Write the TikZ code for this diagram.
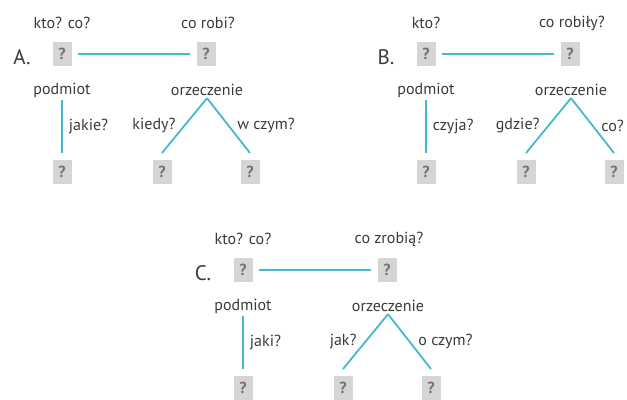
\documentclass[tikz,border=0pt]{standalone}
\usepackage{fontspec}
\setmainfont{PT Sans}

\definecolor{niebieski}{HTML}{45B9CC}
\definecolor{szary}{HTML}{D5D5D5}
\definecolor{napis}{HTML}{3A3A3A}

\tikzset{
  pole/.style={fill=szary, minimum width=9.5pt, minimum height=12pt, inner sep=0pt,
    text=black!55, font=\bfseries\fontsize{8}{9}\selectfont},
  opis/.style={text=napis, inner sep=1pt, font=\fontsize{8}{9}\selectfont},
  litera/.style={text=napis, font=\fontsize{10.5}{12}\selectfont},
  linia/.style={draw=niebieski, line width=0.9pt},
}

% one sentence scheme: prefix, letter, two questions on top, three questions on the edges
\newcommand{\zdanie}[7]{%
  \node[litera] (#1lit) at (-40,3) {#2};
  \node[pole] (#1p) at (0,0) {?};
  \node[pole] (#1o) at (144,0) {?};
  \node[opis] (#1kto) at (0,-31) {#3};
  \node[opis] (#1co) at (146,-31) {#4};
  \node[opis] (#1podm) at (0,36) {podmiot};
  \node[opis] (#1orz) at (145,36) {orzeczenie};
  \node[pole] (#1d1) at (0,118) {?};
  \node[pole] (#1d2) at (100,118) {?};
  \node[pole] (#1d3) at (188,118) {?};
  % ends of the edges, just above the lower boxes
  \coordinate (#1k1) at (0,99);
  \coordinate (#1k2) at (100,99);
  \coordinate (#1k3) at (188,99);
  \draw[linia, shorten <=3pt, shorten >=3pt] (#1p) -- (#1o);
  \draw[linia] (#1podm) -- node[opis, right=2pt] {#5} (#1k1);
  \draw[linia] (#1orz.south) -- node[opis, left=3pt] {#6} (#1k2);
  \draw[linia] (#1orz.south) -- node[opis, right=3pt] {#7} (#1k3);
}

\begin{document}
\begin{tikzpicture}[x=0.5pt, y=-0.5pt]
\useasboundingbox (0,0) rectangle (627,400);

\begin{scope}[shift={(62,54)}]
\zdanie{a}{A.}{kto? co?}{co robi?}{jakie?}{kiedy?}{w czym?}
\end{scope}

\begin{scope}[shift={(426,54)}]
\zdanie{b}{B.}{kto?}{co robiły?}{czyja?}{gdzie?}{co?}
\end{scope}

\begin{scope}[shift={(243,270)}]
\zdanie{c}{C.}{kto? co?}{co zrobią?}{jaki?}{jak?}{o czym?}
\end{scope}

\end{tikzpicture}
\end{document}
